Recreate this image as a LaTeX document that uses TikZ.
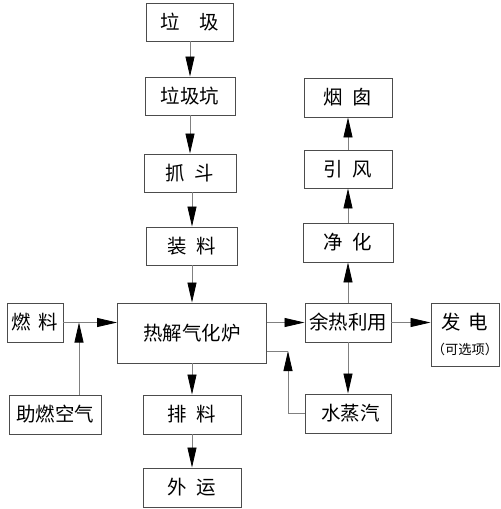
\documentclass[tikz,border=0pt]{standalone}
\usepackage{fontspec}
\newfontfamily\cjk{Noto Sans CJK SC}
\usetikzlibrary{arrows.meta}
\tikzset{
  box/.style={draw=black!70, line width=0.8pt, minimum height=1.17cm, inner sep=0pt, font=\cjk\fontsize{16.6}{20}\selectfont},
  arr/.style={draw=black!50, line width=0.7pt, -{Triangle[length=0.6cm, width=0.27cm, color=black]}},
  link/.style={draw=black!50, line width=0.7pt},
}
\begin{document}
\begin{tikzpicture}
\useasboundingbox (0,0) rectangle (15,-15.27);

% main column
\node[box, minimum width=2.61cm, minimum height=1.14cm] (lj) at (5.70,-0.66) {垃\hspace{1em}圾};
\node[box, minimum width=2.70cm, minimum height=1.14cm] (ljk) at (5.70,-2.88) {垃圾坑};
\node[box, minimum width=2.76cm, minimum height=1.14cm] (zd) at (5.70,-5.19) {抓\hspace{0.5em}斗};
\node[box, minimum width=2.73cm, minimum height=1.14cm] (zl) at (5.76,-7.38) {装\hspace{0.5em}料};
\node[box, minimum width=4.47cm, minimum height=1.80cm] (lu) at (5.76,-9.99) {热解气化炉};
\node[box, minimum width=2.94cm] (pl) at (5.76,-12.435) {排\hspace{0.5em}料};
\node[box, minimum width=2.94cm] (wy) at (5.76,-14.625) {外\hspace{0.5em}运};

% fuel and air
\node[box, minimum width=1.68cm] (rl) at (1.05,-9.675) {燃\hspace{0.4em}料};
\node[box, minimum width=2.76cm] (zr) at (1.65,-12.435) {助燃空气};
\coordinate (jn) at (2.37,-9.675);

% flue gas and heat
\node[box, minimum width=2.58cm] (yr) at (10.44,-9.675) {余热利用};
\node[box, minimum width=2.58cm] (sz) at (10.44,-12.405) {\hspace{0.25em}水蒸汽};
\node[box, minimum width=2.70cm] (jh) at (10.44,-7.275) {净\hspace{0.5em}化};
\node[box, minimum width=2.64cm, minimum height=1.14cm] (yf) at (10.44,-5.07) {引\hspace{0.5em}风};
\node[box, minimum width=2.64cm] (yc) at (10.44,-2.925) {烟\hspace{0.5em}囱};
\node[box, minimum width=2.04cm, minimum height=1.89cm, align=center] (fd) at (13.95,-10.035)
  {发\hspace{0.4em}电\\[2pt]{\fontsize{11.3}{14}\selectfont （可选项）}};
\coordinate (fb) at (8.64,-10.53);

\draw[arr] (lj) -- (ljk);
\draw[arr] (ljk) -- (zd);
\draw[arr] (zd.south -| zl) -- (zl);
\draw[arr] (zl) -- (lu);
\draw[arr] (lu) -- (pl);
\draw[arr] (pl) -- (wy);

\draw[arr] (rl.east) -- (lu.west |- rl.east);
\draw[arr] (zr.north -| jn) -- (jn);

\draw[arr] (lu.east |- yr.west) -- (yr.west);
\draw[arr] (yr) -- (fd.west |- yr);
\draw[arr] (yr) -- (sz);
\draw[arr] (yr) -- (jh);
\draw[arr] (jh) -- (yf);
\draw[arr] (yf) -- (yc);

\draw[arr] (sz.west) -| (fb);
\draw[link] (fb) -- (lu.east |- fb);
\end{tikzpicture}
\end{document}
